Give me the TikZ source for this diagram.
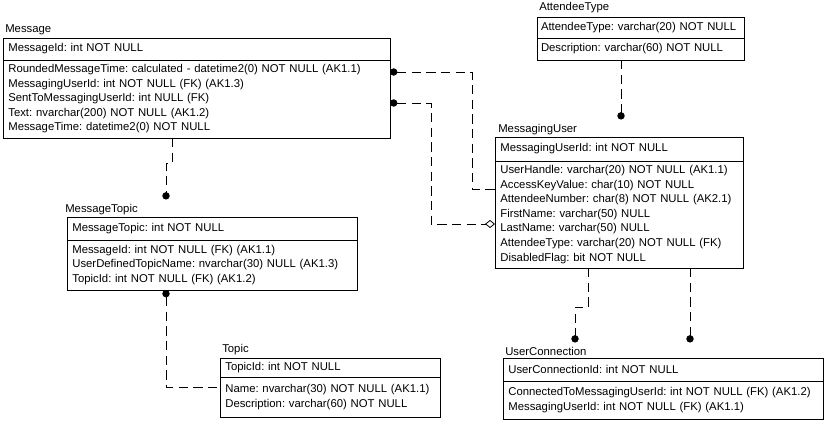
\documentclass[tikz,border=0pt]{standalone}
\usepackage{fontspec}
\setmainfont{Liberation Sans}
\usetikzlibrary{arrows.meta, positioning, calc}
\tikzset{
  fkdot/.tip={Circle[length=5.5pt]},
  nulldia/.tip={Diamond[open, length=7.5pt, width=6pt]}
}

\begin{document}
\frenchspacing
\begin{tikzpicture}[
  x=0.75pt, y=-0.75pt,
  font=\fontsize{8.5}{10.9}\selectfont\frenchspacing,
  tname/.style={anchor=base west, inner xsep=0pt, inner ysep=3pt},
  keybox/.style={draw, line width=0.6pt, outer sep=0pt, anchor=north west, align=left, inner xsep=4pt, inner ysep=2pt},
  attrbox/.style={draw, line width=0.6pt, outer sep=0pt, align=left, inner xsep=4pt, inner ysep=2pt},
  rel/.style={line width=0.6pt, dash pattern=on 7pt off 4pt}
]
  \useasboundingbox (0,0) rectangle (830,421);

  % Message
  \node[keybox, text width=282.25pt, minimum height=16.5pt] (msgKey) at (3,38) {MessageId: int NOT NULL};
  \node[attrbox, text width=282.25pt, minimum height=58.5pt, below=0pt of msgKey] (msgBody) {RoundedMessageTime: calculated - datetime2(0) NOT NULL (AK1.1)\\ MessagingUserId: int NOT NULL (FK) (AK1.3)\\ SentToMessagingUserId: int NULL (FK)\\ Text: nvarchar(200) NOT NULL (AK1.2)\\ MessageTime: datetime2(0) NOT NULL};
  \node[tname] (msgName) at ($(msgKey.north west)+(2,-6)$) {Message};

  % AttendeeType
  \node[keybox, text width=149.25pt, inner xsep=3pt, minimum height=15.75pt] (atKey) at (537,17) {AttendeeType: varchar(20) NOT NULL};
  \node[attrbox, text width=149.25pt, inner xsep=3pt, minimum height=16.5pt, below=0pt of atKey] (atBody) {Description: varchar(60) NOT NULL};
  \node[tname] (atName) at ($(atKey.north west)+(2,-7)$) {AttendeeType};

  % MessagingUser
  \node[keybox, text width=178pt, minimum height=18pt] (muKey) at (495,137) {MessagingUserId: int NOT NULL};
  \node[attrbox, text width=178pt, minimum height=80.25pt, below=0pt of muKey] (muBody) {UserHandle: varchar(20) NOT NULL (AK1.1)\\ AccessKeyValue: char(10) NOT NULL\\ AttendeeNumber: char(8) NOT NULL (AK2.1)\\ FirstName: varchar(50) NULL\\ LastName: varchar(50) NULL\\ AttendeeType: varchar(20) NOT NULL (FK)\\ DisabledFlag: bit NOT NULL};
  \node[tname] (muName) at ($(muKey.north west)+(3,-5)$) {MessagingUser};

  % MessageTopic
  \node[keybox, text width=209.5pt, minimum height=17.25pt] (mtKey) at (67,217) {MessageTopic: int NOT NULL};
  \node[attrbox, text width=209.5pt, minimum height=37.5pt, below=0pt of mtKey] (mtBody) {MessageId: int NOT NULL (FK) (AK1.1)\\ UserDefinedTopicName: nvarchar(30) NULL (AK1.3)\\ TopicId: int NOT NULL (FK) (AK1.2)};
  \node[tname] (mtName) at ($(mtKey.north west)+(-2,-5)$) {MessageTopic};

  % Topic
  \node[keybox, text width=157pt, minimum height=14.25pt] (tpKey) at (220,358) {TopicId: int NOT NULL};
  \node[attrbox, text width=157pt, minimum height=30pt, below=0pt of tpKey] (tpBody) {Name: nvarchar(30) NOT NULL (AK1.1)\\ Description: varchar(60) NOT NULL};
  \node[tname] (tpName) at ($(tpKey.north west)+(2,-6)$) {Topic};

  % UserConnection
  \node[keybox, text width=232pt, minimum height=17.25pt] (ucKey) at (503,358) {UserConnectionId: int NOT NULL};
  \node[attrbox, text width=232pt, minimum height=28.5pt, below=0pt of ucKey] (ucBody) {ConnectedToMessagingUserId: int NOT NULL (FK) (AK1.2)\\ MessagingUserId: int NOT NULL (FK) (AK1.1)};
  \node[tname] (ucName) at ($(ucKey.north west)+(2,-3)$) {UserConnection};

  % relationships
  \coordinate (atDrop) at ($(atBody.south west)+(84,0)$);
  \coordinate (msgDrop) at ($(msgBody.south west)+(169,0)$);
  \coordinate (mtTop) at ($(mtKey.north west)+(99,0)$);
  \coordinate (mtBot) at ($(mtBody.south west)+(99,0)$);
  \coordinate (muDropA) at ($(muBody.south west)+(93,0)$);
  \coordinate (ucTopA) at ($(ucKey.north west)+(72,0)$);
  \coordinate (muDropB) at ($(muBody.south west)+(195,0)$);

  \draw[rel, fkdot-] ($(msgBody.north east)+(0,12)$) -| ($(muBody.north west)+(-23,28)$) -- ($(muBody.north west)+(0,28)$);
  \draw[rel, fkdot-nulldia] ($(msgBody.north east)+(0,43)$) -| ($(muBody.north west)+(-64,63)$) -- ($(muBody.north west)+(0,63)$);
  \draw[rel, -fkdot] (atDrop) -- (atDrop |- muName.north);
  \draw[rel, -fkdot] (msgDrop) -- ++(0,25) -| (mtTop |- mtName.north);
  \draw[rel, fkdot-] (mtBot) |- ($(tpBody.north west)+(0,10)$);
  \draw[rel, -fkdot] (muDropA) -- ++(0,39) -| (ucTopA |- ucName.north);
  \draw[rel, -fkdot] (muDropB) -- (muDropB |- ucName.north);
\end{tikzpicture}
\end{document}
